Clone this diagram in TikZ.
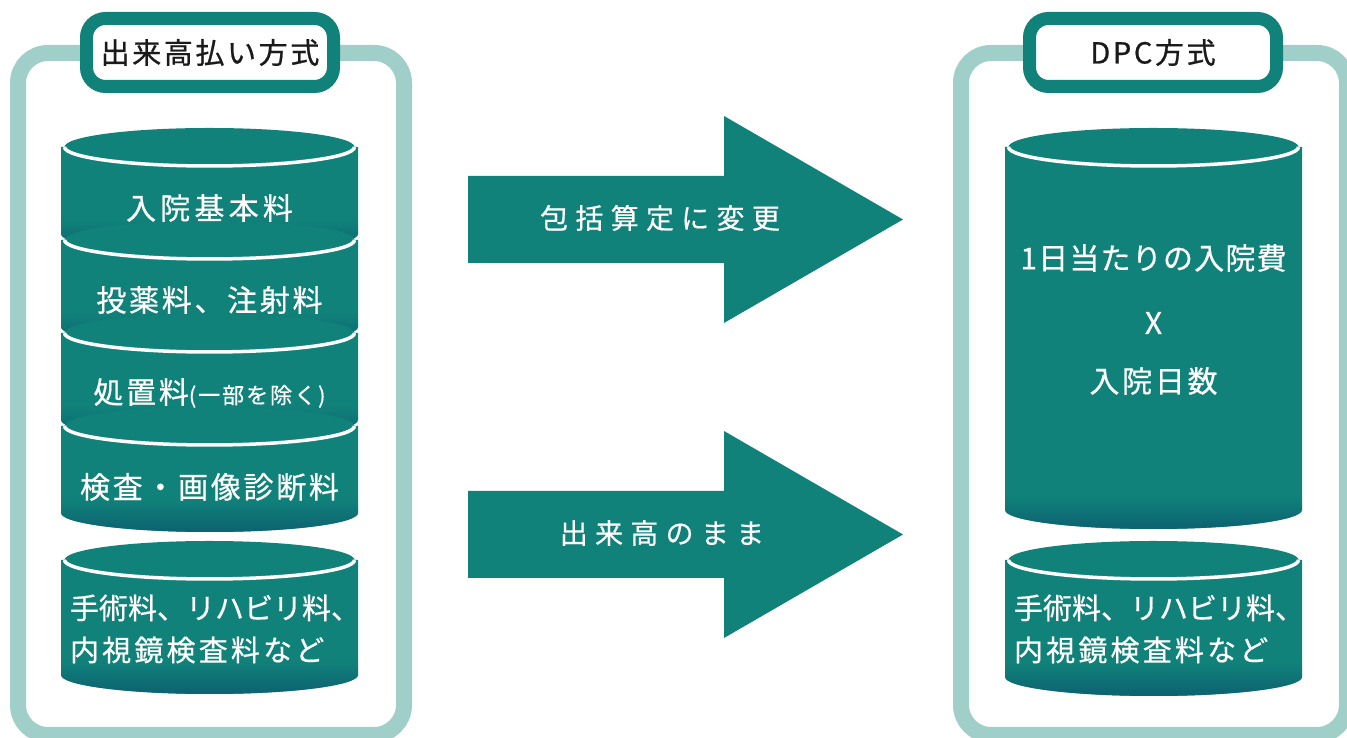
\documentclass[tikz,border=0pt]{standalone}
\usepackage{fontspec}
\setmainfont{Noto Sans CJK JP}
\usetikzlibrary{fadings}
\definecolor{dpcteal}{HTML}{11827A}
\definecolor{dpcdark}{HTML}{0D6272}
\definecolor{framegreen}{HTML}{A0CEC9}
\definecolor{titleblack}{HTML}{1A1A1A}

\begin{document}
\begin{tikzpicture}[x = 1pt, y = 1pt,
		frame/.style = {draw = framegreen, line width = 16pt, rounded corners = 30pt},
		titlebox/.style = {draw = dpcteal, fill = white, line width = 13pt, rounded corners = 19pt, minimum width = 247pt, minimum height = 68pt, text = titleblack, font = \fontsize{29}{29}\selectfont\addfontfeatures{LetterSpace = 9, FakeBold = 0.8}},
		cyltext/.style = {text = white, align = center, font = \fontsize{30}{42}\selectfont\addfontfeatures{LetterSpace = 9, FakeBold = 0.6}},
		listtext/.style = {text = white, align = left, font = \fontsize{29}{42}\selectfont\addfontfeatures{FakeBold = 0.6}},
		arrowtext/.style = {text = white, font = \fontsize{28}{28}\selectfont\addfontfeatures{LetterSpace = 26, FakeBold = 0.5}}]
		\useasboundingbox (0, 0) rectangle (1347, 738);
		\fill[white] (0, 0) rectangle (1347, 738);
		\draw[frame] (18, 3) rectangle (404, 685);
		\draw[frame] (961, 3) rectangle (1347, 685);
		\node[titlebox] (pay) at (210, 685.5) {出来高払い方式};
		\node[titlebox] (dpc) at (1153, 685.5) {DPC方式};
		\foreach \cx/\t/\b in {209.5/591/504, 209.5/498/411, 209.5/405/318, 209.5/312/225, 209.5/178/63, 1153.5/591/228, 1153.5/178/61}
		{
			\fill[dpcteal] (\cx - 148.5, \t) -- (\cx - 148.5, \b) arc[start angle = 180, end angle = 360, x radius = 148.5, y radius = 19] -- (\cx + 148.5, \t) -- cycle;
			\fill[dpcdark, path fading = north] (\cx - 148.5, \b + 14) -- (\cx - 148.5, \b) arc[start angle = 180, end angle = 360, x radius = 148.5, y radius = 19] -- (\cx + 148.5, \b + 14) -- cycle;
			\fill[dpcteal] (\cx, \t) ellipse[x radius = 145, y radius = 19];
			\draw[white, line width = 3.5pt] (\cx - 145, \t) arc[start angle = 180, end angle = 360, x radius = 145, y radius = 19];
		}
		\node[cyltext] (base) at (209.5, 530) {\addfontfeatures{LetterSpace = 14}入院基本料};
		\node[cyltext] (drug) at (209.5, 438) {投薬料、注射料};
		\node[cyltext] (proc) at (209.5, 345) {処置料{\fontsize{22}{22}\selectfont(一部を除く)}};
		\node[cyltext] (exam) at (209.5, 251) {検査・画像診断料};
		\node[listtext] (other) at (215, 109) {手術料、リハビリ料、\\{\addfontfeatures{LetterSpace = 11}内視鏡検査料など}};
		\node[cyltext] (daily) at (1153.5, 480) {\addfontfeatures{LetterSpace = 4}1日当たりの入院費};
		\node[cyltext] (times) at (1153.5, 415) {X};
		\node[cyltext] (days) at (1153.5, 357) {入院日数};
		\node[listtext] (rest) at (1159, 109) {手術料、リハビリ料、\\{\addfontfeatures{LetterSpace = 11}内視鏡検査料など}};
		\foreach \y in {518.5, 203.5}
			\fill[dpcteal] (468, \y + 43.5) -- (724, \y + 43.5) -- (724, \y + 103.5) -- (903, \y) -- (724, \y - 103.5) -- (724, \y - 43.5) -- (468, \y - 43.5) -- cycle;
		\node[arrowtext] (change) at (660, 520) {包括算定に変更};
		\node[arrowtext] (keep) at (662, 205) {出来高のまま};
	\end{tikzpicture}
\end{document}
